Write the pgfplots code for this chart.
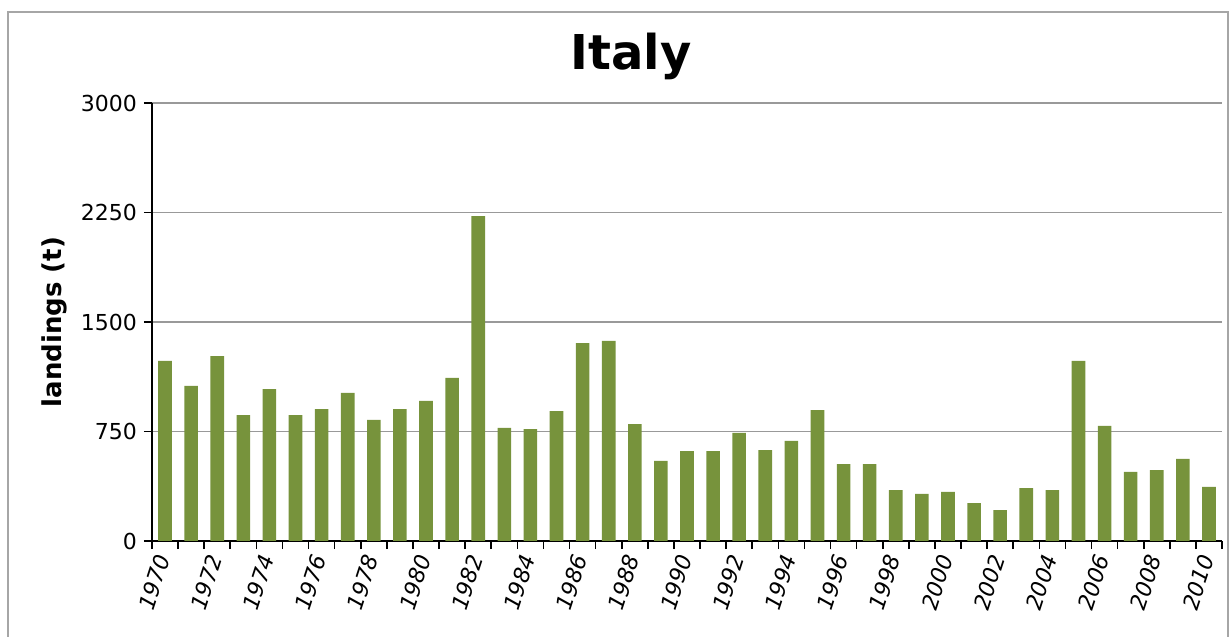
\documentclass[border=0pt]{standalone}
\usepackage{pgfplots}
\pgfplotsset{compat=1.18}
\usepackage{fontspec}
\setmainfont{DejaVu Sans}
\definecolor{barg}{HTML}{77933C}
\begin{document}
\begin{tikzpicture}
\useasboundingbox (-76pt,-48pt) rectangle (540pt,270.5pt);
\draw[gray!70, line width=0.8pt] (-72pt,-60pt) rectangle (538pt,264.5pt);
\begin{axis}[at={(0,0)}, anchor=south west, scale only axis,
 width=535pt, height=219pt,
 xmin=1969.5, xmax=2010.5, ymin=0, ymax=3000,
 ytick={0,750,1500,2250,3000},
 xtick={1969.5,1970.5,...,2010.5}, xticklabels={},
 extra x ticks={1970,1972,...,2010},
 extra x tick style={tick style={draw=none}, grid=none},
 axis x line*=bottom, axis y line*=left,
 ymajorgrids, grid style={gray!80, line width=0.8pt},
 major tick length=4pt,
 tick style={black, line width=0.8pt},
 tick align=outside,
 x tick label style={rotate=72, anchor=east, font=\fontsize{11}{12}\selectfont\itshape},
 y tick label style={font=\fontsize{11}{12}\selectfont},
 /pgf/number format/1000 sep={},
 /pgf/number format/assume math mode=true,
 ylabel={\textbf{landings (t)}}, ylabel style={font=\fontsize{13}{14}\selectfont},
 title={\textbf{Italy}}, title style={font=\fontsize{24}{26}\selectfont, yshift=2pt, xshift=-28pt},
 axis line style={black, line width=0.8pt},
 ybar, bar width=6.8pt,
 clip=false]
\addplot[fill=barg, draw=none] coordinates {
(1970,1233)(1971,1062)(1972,1267)(1973,863)(1974,1041)(1975,863)(1976,904)(1977,1014)(1978,829)(1979,904)
(1980,959)(1981,1117)(1982,2226)(1983,774)(1984,767)(1985,890)(1986,1356)(1987,1370)(1988,801)(1989,548)
(1990,616)(1991,616)(1992,740)(1993,623)(1994,685)(1995,897)(1996,527)(1997,527)(1998,349)(1999,322)
(2000,336)(2001,260)(2002,212)(2003,363)(2004,349)(2005,1233)(2006,788)(2007,473)(2008,486)(2009,562)(2010,370)};
\end{axis}
\end{tikzpicture}
\end{document}
